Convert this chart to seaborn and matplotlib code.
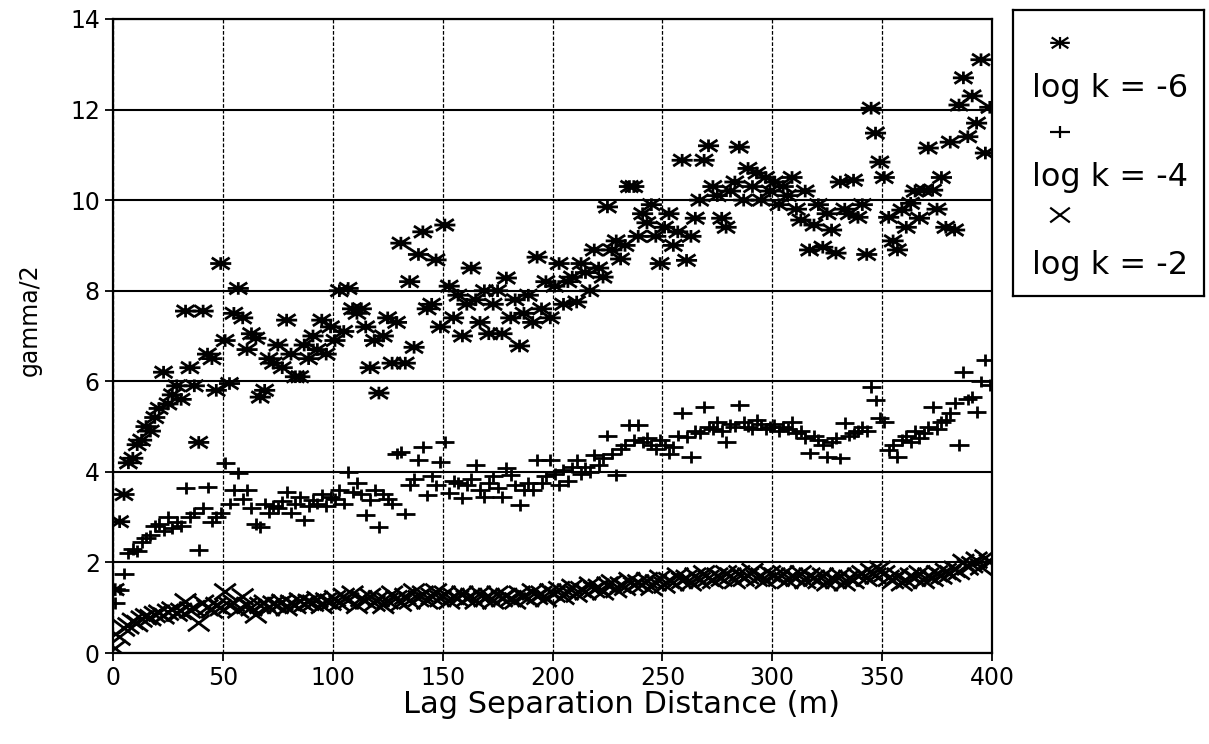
import numpy as np
import pandas as pd
import matplotlib
matplotlib.use("Agg")
import matplotlib.pyplot as plt
from matplotlib.path import Path
import seaborn as sns

# lag bins (m), one estimate every 2 m
lag = np.arange(1, 400, 2)

logk_6 = [
    1.4, 2.9, 3.5, 4.2, 4.3, 4.6, 4.7, 5.0, 4.9, 5.2,
    5.4, 6.2, 5.5, 5.7, 5.9, 5.6, 7.55, 6.3, 5.9, 4.65,
    7.55, 6.6, 6.5, 5.8, 8.6, 6.9, 5.95, 7.5, 8.05, 7.4,
    6.7, 7.05, 6.95, 5.65, 5.8, 6.5, 6.4, 6.8, 6.3, 7.35,
    6.6, 6.1, 6.1, 6.8, 6.5, 7.0, 6.7, 7.35, 6.6, 7.2,
    6.9, 8.0, 7.1, 8.05, 7.6, 7.5, 7.6, 7.2, 6.3, 6.9,
    5.74, 7.0, 7.4, 6.4, 7.3, 9.05, 6.4, 8.2, 6.75, 8.8,
    9.3, 7.6, 7.7, 8.68, 7.2, 9.45, 8.1, 7.4, 7.9, 7.0,
    7.7, 8.5, 7.8, 7.3, 8.0, 7.05, 7.7, 8.0, 7.05, 8.28,
    7.4, 7.8, 6.78, 7.5, 7.9, 7.3, 8.74, 7.6, 8.2, 7.4,
    8.1, 8.6, 7.7, 8.2, 8.3, 7.75, 8.6, 8.4, 8.0, 8.9,
    8.5, 8.3, 9.85, 8.9, 9.1, 8.7, 9.0, 10.3, 10.3, 9.2,
    9.7, 9.5, 9.9, 9.2, 8.6, 9.4, 9.7, 9.0, 9.3, 10.88,
    8.67, 9.2, 9.6, 10.0, 10.88, 11.2, 10.3, 10.1, 9.6, 9.4,
    10.2, 10.4, 11.17, 10.0, 10.7, 10.3, 10.6, 10.0, 10.5, 10.2,
    10.4, 9.9, 10.3, 10.1, 10.5, 9.8, 9.56, 10.2, 8.9, 9.45,
    9.9, 8.96, 9.7, 9.34, 8.83, 10.4, 9.8, 9.7, 10.44, 9.62,
    9.9, 8.8, 12.03, 11.48, 10.84, 10.5, 9.62, 9.1, 8.9, 9.78,
    9.4, 9.93, 10.2, 9.6, 10.22, 11.15, 10.22, 9.8, 10.5, 9.4,
    11.28, 9.34, 12.1, 12.7, 11.4, 12.3, 11.7, 13.1, 11.04, 12.05,
]

logk_4 = [
    1.1, 1.4, 1.75, 2.2, 2.3, 2.25, 2.45, 2.55, 2.6, 2.8,
    2.85, 2.7, 3.0, 2.75, 2.9, 2.8, 3.64, 3.0, 3.1, 2.27,
    3.2, 3.66, 2.9, 3.0, 3.1, 4.2, 3.3, 3.6, 3.97, 3.4,
    3.6, 3.2, 2.85, 2.78, 3.3, 3.1, 3.25, 3.2, 3.35, 3.55,
    3.1, 3.3, 3.45, 2.93, 3.25, 3.38, 3.3, 3.5, 3.25, 3.45,
    3.4, 3.6, 3.3, 4.0, 3.55, 3.75, 3.5, 3.05, 3.38, 3.6,
    2.78, 3.5, 3.4, 3.3, 4.4, 4.44, 3.08, 3.7, 3.85, 4.26,
    4.55, 3.48, 3.9, 3.7, 4.22, 4.66, 3.53, 3.8, 3.75, 3.42,
    3.7, 3.85, 4.15, 3.6, 3.44, 3.75, 3.9, 3.65, 3.44, 4.08,
    3.93, 3.7, 3.27, 3.6, 3.75, 3.6, 4.26, 3.75, 3.9, 4.26,
    3.95, 3.7, 4.05, 3.8, 4.1, 4.26, 3.95, 4.1, 4.0, 4.37,
    4.15, 4.3, 4.8, 4.4, 3.93, 4.5, 4.6, 5.03, 4.7, 5.03,
    4.66, 4.75, 4.6, 4.5, 4.7, 4.6, 4.4, 4.55, 4.8, 5.3,
    4.77, 4.33, 4.9, 4.85, 5.43, 5.0, 4.95, 5.1, 4.9, 4.66,
    5.05, 5.0, 5.47, 5.1, 5.0, 4.95, 5.15, 5.05, 4.95, 5.0,
    5.05, 4.9, 5.0, 4.95, 5.1, 4.85, 4.9, 4.75, 4.41, 4.8,
    4.7, 4.6, 4.33, 4.65, 4.75, 4.3, 5.08, 4.8, 4.85, 4.9,
    5.0, 4.9, 5.87, 5.58, 5.2, 5.1, 4.48, 4.6, 4.33, 4.7,
    4.8, 4.65, 4.9, 4.75, 4.85, 5.0, 5.43, 4.95, 5.1, 5.14,
    5.3, 5.52, 4.59, 6.2, 5.6, 5.65, 5.32, 6.0, 6.47, 5.92,
]

logk_2 = [
    0.1, 0.35, 0.55, 0.6, 0.7, 0.65, 0.75, 0.8, 0.78, 0.85,
    0.88, 0.82, 0.9, 0.95, 0.88, 0.92, 1.13, 0.95, 0.98, 0.66,
    1.1, 1.0, 0.95, 1.05, 1.0, 1.35, 1.05, 1.1, 0.95, 1.24,
    1.05, 1.0, 0.84, 1.05, 1.1, 1.0, 1.08, 1.05, 1.12, 1.0,
    1.1, 1.05, 1.15, 1.08, 1.12, 1.1, 1.18, 1.05, 1.15, 1.12,
    1.2, 1.1, 1.25, 1.15, 1.3, 1.05, 1.2, 1.15, 1.25, 1.1,
    1.2, 1.05, 1.15, 1.3, 1.2, 1.1, 1.25, 1.15, 1.35, 1.2,
    1.3, 1.15, 1.25, 1.35, 1.2, 1.3, 1.15, 1.25, 1.2, 1.3,
    1.2, 1.25, 1.15, 1.3, 1.2, 1.25, 1.15, 1.3, 1.2, 1.25,
    1.2, 1.15, 1.3, 1.25, 1.2, 1.35, 1.25, 1.3, 1.2, 1.35,
    1.3, 1.4, 1.25, 1.35, 1.45, 1.3, 1.4, 1.35, 1.5, 1.4,
    1.45, 1.35, 1.5, 1.55, 1.4, 1.5, 1.45, 1.6, 1.5, 1.55,
    1.5, 1.6, 1.45, 1.55, 1.65, 1.5, 1.6, 1.55, 1.7, 1.6,
    1.65, 1.55, 1.7, 1.6, 1.75, 1.65, 1.6, 1.7, 1.65, 1.75,
    1.7, 1.6, 1.75, 1.65, 1.7, 1.8, 1.65, 1.7, 1.6, 1.75,
    1.7, 1.65, 1.75, 1.6, 1.7, 1.65, 1.75, 1.6, 1.7, 1.65,
    1.6, 1.7, 1.55, 1.65, 1.6, 1.7, 1.55, 1.65, 1.6, 1.7,
    1.75, 1.65, 1.8, 1.7, 1.85, 1.75, 1.65, 1.6, 1.7, 1.55,
    1.6, 1.7, 1.65, 1.75, 1.6, 1.7, 1.65, 1.75, 1.7, 1.8,
    1.75, 1.85, 1.8, 2.0, 1.9, 1.95, 2.05, 1.9, 2.1, 2.0,
]

labels = ["log k = -6", "log k = -4", "log k = -2"]
x_ticks = [0, 50, 100, 150, 200, 250, 300, 350, 400]
y_ticks = [0, 2, 4, 6, 8, 10, 12, 14]

# line-art markers, wider than tall like the scanned original
seg = [Path.MOVETO, Path.LINETO]
star_m = Path([(-1, 0), (1, 0), (-0.85, -0.55), (0.85, 0.55),
               (-0.85, 0.55), (0.85, -0.55), (0, -0.6), (0, 0.6)], seg * 4)
plus_m = Path([(-1, 0), (1, 0), (0, -0.6), (0, 0.6)], seg * 2)
cross_m = Path([(-1, -0.75), (1, 0.75), (-1, 0.75), (1, -0.75)], seg * 2)

df = pd.DataFrame({"lag": lag, "s6": logk_6, "s4": logk_4, "s2": logk_2})

sns.set_style("ticks", {"text.color": "black", "axes.labelcolor": "black",
                        "xtick.color": "black", "ytick.color": "black"})
plt.rcParams["font.family"] = ["DejaVu Sans"]

fig = plt.figure(figsize=(12.09, 7.44), dpi=100)
ax = fig.add_axes([0.0935, 0.1223, 0.7270, 0.8522])

series = [("s6", star_m, 230), ("s4", plus_m, 190), ("s2", cross_m, 240)]
for col, mk, size in series:
    sns.scatterplot(data=df, x="lag", y=col, ax=ax, marker=mk, s=size,
                    facecolor="none", edgecolor="black", linewidth=2.0,
                    legend=False, zorder=3)

ax.set_xlim(0, 400)
ax.set_ylim(0, 14)
ax.set_xticks(x_ticks)
ax.set_yticks(y_ticks)
ax.grid(axis="y", color="black", linewidth=1.5, linestyle="-")
ax.grid(axis="x", color="black", linewidth=0.9, linestyle=(0, (3, 1.5)))
ax.set_axisbelow(True)
for sp in ax.spines.values():
    sp.set_visible(True)
    sp.set_color("black")
    sp.set_linewidth(1.6)
ax.tick_params(direction="out", length=6, width=1.3, color="black",
               labelsize=17, labelcolor="black")
ax.set_xlabel("Lag Separation Distance (m)", fontsize=22)
ax.set_ylabel("gamma/2", fontsize=17)
ax.xaxis.set_label_coords(0.579, -0.058)
ax.yaxis.set_label_coords(-0.081, 0.525)

# stacked legend box: marker above each label
lax = fig.add_axes([0.8379, 0.6022, 0.158, 0.3844])
lax.set_xlim(0, 1)
lax.set_ylim(0, 1)
lax.set_xticks([])
lax.set_yticks([])
for sp in lax.spines.values():
    sp.set_visible(True)
    sp.set_color("black")
    sp.set_linewidth(1.6)
for (col, mk, size), lab, ym, yt in zip(series, labels,
                                         [0.885, 0.573, 0.283],
                                         [0.727, 0.413, 0.105]):
    lax.scatter([0.246], [ym], marker=mk, s=200, facecolor="none",
                edgecolor="black", linewidth=1.6)
    lax.text(0.0995, yt, lab, fontsize=23, va="center", ha="left")

fig.savefig("out.png", dpi=100)
